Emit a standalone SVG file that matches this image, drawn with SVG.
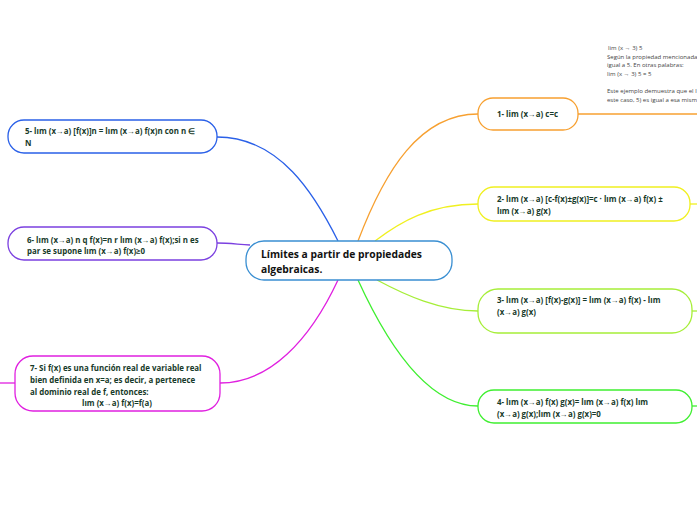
<svg xmlns="http://www.w3.org/2000/svg" width="697" height="520" viewBox="0 0 697 520">
<style>
.box{fill:#fff;stroke-width:1.3}
.t{font-family:"Open Sans","Noto Sans",sans-serif;font-weight:700;font-size:7.9px;fill:#173a2a}
.c{font-family:"Open Sans","Noto Sans",sans-serif;font-weight:700;font-size:10.3px;fill:#111}
.n{font-family:"Open Sans","Noto Sans",sans-serif;font-size:6px;fill:#444}
.l{fill:none;stroke-width:1.3}
</style>
<rect width="697" height="520" fill="#fff"/>
<g id="connectors">
<path class="l" d="M358,241 C385,170 420,114 478,114" stroke="#f7a030"/>
<path class="l" d="M578,114 L697,114" stroke="#f7a030"/>
<path class="l" d="M375,241 C400,222 430,204 478,204" stroke="#f0f020"/>
<path class="l" d="M690,204 L697,204" stroke="#f0f020"/>
<path class="l" d="M377,280 C405,295 440,311 478,311" stroke="#a6ee38"/>
<path class="l" d="M692,311 L697,311" stroke="#a6ee38"/>
<path class="l" d="M358,280 C390,350 430,406 478,406" stroke="#3fef30"/>
<path class="l" d="M692,406 L697,406" stroke="#3fef30"/>
<path class="l" d="M338,241 C315,195 280,137 217,137" stroke="#2a60e8"/>
<path class="l" d="M250,245 C235,244 228,243 217,243" stroke="#7b40e0"/>
<path class="l" d="M338,280 C310,340 270,383 220,383" stroke="#e020e0"/>
<path class="l" d="M0,383 L15,383" stroke="#e020e0"/>
</g>
<g id="note">
<text class="n" x="608" y="50"> lim (x → 3) 5</text>
<text class="n" x="607" y="59">Según la propiedad mencionada</text>
<text class="n" x="607" y="67">igual a 5. En otras palabras:</text>
<text class="n" x="607" y="76">lim (x → 3) 5 = 5</text>
<text class="n" x="607" y="93">Este ejemplo demuestra que el l</text>
<text class="n" x="607" y="102">este caso, 5) es igual a esa mism</text>
</g>
<g id="central">
<rect class="box" x="246" y="241" width="206" height="39" rx="18" stroke="#3a8fd2"/>
<text class="c" x="261" y="258">Límites a partir de propiedades</text>
<text class="c" x="261" y="273">algebraicas.</text>
</g>
<g id="node1">
<rect class="box" x="478" y="98" width="100" height="32" rx="15" stroke="#f7a030"/>
<text class="t" x="497" y="117">1- lim (x→a) c=c</text>
</g>
<g id="node2">
<rect class="box" x="478" y="187" width="212" height="34" rx="16" stroke="#f0f020"/>
<text class="t" x="497" y="202">2- lım (x→a) [c-f(x)±g(x)]=c · lım (x→a)  f(x) ±</text>
<text class="t" x="497" y="214">lım (x→a) g(x)</text>
</g>
<g id="node3">
<rect class="box" x="478" y="289" width="214" height="44" rx="20" stroke="#a6ee38"/>
<text class="t" x="497" y="303">3- lım (x→a) [f(x)-g(x)] = lım (x→a) f(x) - lım</text>
<text class="t" x="497" y="315">(x→a) g(x)</text>
</g>
<g id="node4">
<rect class="box" x="478" y="390" width="214" height="33" rx="16" stroke="#3fef30"/>
<text class="t" x="497" y="405">4- lım (x→a) f(x) g(x)= lım (x→a) f(x) lım</text>
<text class="t" x="497" y="417">(x→a) g(x);lım (x→a) g(x)=0</text>
</g>
<g id="node5">
<rect class="box" x="8" y="120" width="209" height="33" rx="16" stroke="#2a60e8"/>
<text class="t" x="25" y="134">5- lım (x→a) [f(x)]n = lım (x→a) f(x)n con n ∈</text>
<text class="t" x="25" y="146">N</text>
</g>
<g id="node6">
<rect class="box" x="8" y="227" width="209" height="33" rx="16" stroke="#7b40e0"/>
<text class="t" x="27" y="243">6- lım (x→a) n q f(x)=n r lım (x→a) f(x);si  n es</text>
<text class="t" x="27" y="254">par se supone lım (x→a) f(x)≥0</text>
</g>
<g id="node7">
<rect class="box" x="15" y="356" width="205" height="55" rx="18" stroke="#e020e0"/>
<text class="t" x="30" y="371">7- Si f(x) es una función real de variable real</text>
<text class="t" x="30" y="383">bien definida en x=a; es decir, a pertenece</text>
<text class="t" x="30" y="395">al dominio real de f, entonces:</text>
<text class="t" x="117" y="406" text-anchor="middle">lım (x→a) f(x)=f(a)</text>
</g>
</svg>
